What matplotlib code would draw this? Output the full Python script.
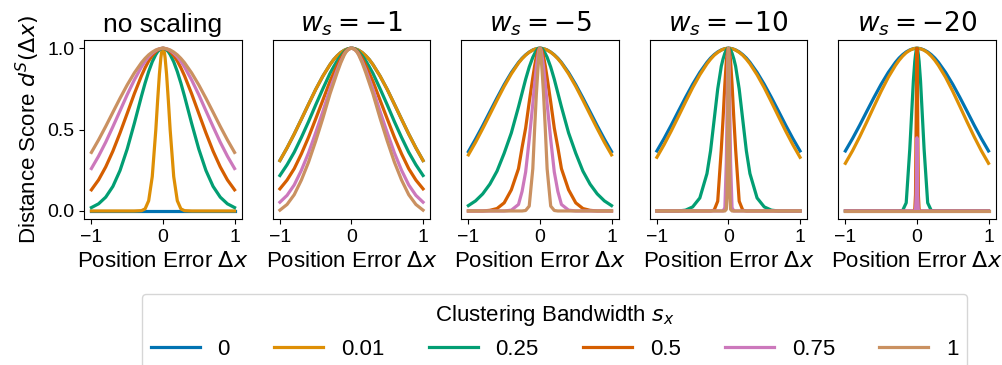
import numpy as np
import matplotlib
if matplotlib.get_backend() != 'agg':
    matplotlib.use('agg')
import matplotlib.pyplot as plt

plt.rcParams['font.family'] = ['Liberation Sans', 'DejaVu Sans']

# half profile grid (curves are symmetric around 0)
X_HALF = [0, 0.005, 0.01, 0.02, 0.03, 0.05, 0.075, 0.1, 0.15, 0.2, 0.25,
          0.3, 0.4, 0.5, 0.6, 0.7, 0.8, 0.9, 1.0]

BANDWIDTHS = ['0', '0.01', '0.25', '0.5', '0.75', '1']
COLORS = ['#0173B2', '#DE8F05', '#029E73', '#D55E00', '#CC78BC', '#CA9161']
TITLES = ['no scaling', r'$w_s = -1$', r'$w_s = -5$', r'$w_s = -10$', r'$w_s = -20$']

NO_SCALING = [
    [0] * 19,
    [1, .998, .993, .973, .940, .841, .678, .50, .211, .063, .013, .002, 0, 0, 0, 0, 0, 0, 0],
    [1, 1, 1, .998, .997, .990, .979, .962, .917, .857, .786, .707, .539, .381, .249, .151, .085, .044, .021],
    [1, 1, 1, .999, .998, .995, .989, .980, .955, .922, .880, .832, .721, .600, .480, .368, .271, .191, .130],
    [1, 1, 1, .999, .999, .997, .992, .987, .970, .948, .919, .886, .806, .715, .616, .518, .423, .337, .261],
    [1, 1, 1, 1, .999, .997, .994, .990, .977, .960, .938, .912, .849, .775, .693, .607, .520, .437, .360],
]
WS_1 = [
    [1, 1, 1, 1, .999, .997, .993, .988, .974, .954, .930, .900, .829, .747, .656, .564, .473, .388, .310],
    [1, 1, 1, 1, .999, .997, .993, .988, .974, .954, .930, .900, .829, .747, .656, .564, .473, .388, .310],
    [1, 1, 1, 1, .998, .995, .989, .980, .955, .923, .886, .846, .751, .652, .549, .452, .361, .284, .218],
    [1, 1, 1, .999, .997, .993, .984, .972, .938, .895, .847, .797, .681, .566, .453, .351, .260, .190, .136],
    [1, 1, 1, .998, .996, .991, .980, .964, .920, .867, .808, .749, .611, .481, .357, .250, .160, .096, .054],
    [1, 1, 1, .998, .996, .990, .978, .960, .910, .850, .785, .720, .570, .430, .300, .190, .100, .040, .005],
]
WS_5 = [
    [1, 1, 1, 1, .999, .997, .994, .990, .977, .960, .939, .913, .851, .777, .695, .610, .524, .442, .365],
    [1, 1, 1, 1, .999, .997, .994, .989, .976, .958, .936, .909, .843, .766, .681, .593, .506, .422, .345],
    [1, 1, 1, .999, .998, .985, .967, .945, .885, .810, .725, .640, .480, .355, .245, .165, .105, .062, .033],
    [1, 1, .998, .992, .982, .950, .890, .820, .670, .510, .390, .260, .130, .050, .015, .004, 0, 0, 0],
    [1, .999, .996, .980, .950, .890, .780, .660, .440, .240, .120, .040, .005, 0, 0, 0, 0, 0, 0],
    [1, .995, .980, .920, .860, .720, .500, .260, .030, .003, 0, 0, 0, 0, 0, 0, 0, 0, 0],
]
WS_10 = [
    [1, 1, 1, 1, .999, .998, .994, .990, .978, .961, .940, .914, .852, .779, .698, .613, .527, .445, .369],
    [1, 1, 1, 1, .999, .997, .994, .989, .975, .957, .933, .905, .837, .758, .670, .580, .491, .407, .330],
    [1, 1, .999, .995, .989, .970, .935, .890, .750, .560, .370, .230, .080, .025, .005, 0, 0, 0, 0],
    [1, .998, .990, .960, .920, .780, .570, .380, .060, .005, 0, 0, 0, 0, 0, 0, 0, 0, 0],
    [1, .970, .900, .600, .300, .020, 0, 0, 0, 0, 0, 0, 0, 0, 0, 0, 0, 0, 0],
    [1, .900, .600, .100, .010, 0, 0, 0, 0, 0, 0, 0, 0, 0, 0, 0, 0, 0, 0],
]
WS_20 = [
    [1, 1, 1, 1, .999, .998, .994, .990, .978, .961, .940, .914, .852, .779, .698, .613, .527, .445, .369],
    [1, 1, 1, 1, .999, .997, .993, .988, .973, .952, .926, .895, .822, .736, .643, .548, .456, .370, .293],
    [1, .999, .990, .960, .920, .800, .590, .380, .050, .003, 0, 0, 0, 0, 0, 0, 0, 0, 0],
    [1, .900, .600, .100, .010, 0, 0, 0, 0, 0, 0, 0, 0, 0, 0, 0, 0, 0, 0],
    [.45, .300, .100, .005, 0, 0, 0, 0, 0, 0, 0, 0, 0, 0, 0, 0, 0, 0, 0],
    [0] * 19,
]
PANELS = [NO_SCALING, WS_1, WS_5, WS_10, WS_20]


def mirror(values):
    values = np.asarray(values, dtype=float)
    return np.concatenate([values[::-1], values[1:]])


x_half = np.asarray(X_HALF, dtype=float)
x_full = np.concatenate([-x_half[::-1], x_half[1:]])

fig, axes = plt.subplots(1, 5, figsize=(10.03, 3.65), dpi=100, sharey=True)
fig.subplots_adjust(left=0.084, right=0.9927, bottom=0.3997, top=0.8899, wspace=0.197)

for ax, title, panel in zip(axes, TITLES, PANELS):
    for label, color, row in zip(BANDWIDTHS, COLORS, panel):
        ax.plot(x_full, mirror(row), color=color, lw=2.3, label=label)
    ax.set_title(title, fontsize=19)
    ax.set_xlabel(r'Position Error $\Delta x$', fontsize=16)
    ax.set_xticks([-1, 0, 1])
    ax.tick_params(labelsize=14)

axes[0].set_yticks([0, 0.5, 1.0])
axes[0].set_ylabel(r'Distance Score $d^S(\Delta x)$', fontsize=16)
for ax in axes[1:]:
    ax.tick_params(left=False)

handles, labels = axes[0].get_legend_handles_labels()
fig.legend(handles, labels, loc='upper center', bbox_to_anchor=(0.553, 0.195),
           borderaxespad=0, ncol=6, title=r'Clustering Bandwidth $s_x$',
           fontsize=16, title_fontsize=16, handlelength=2.2, labelspacing=0.5)

fig.savefig('out.png', dpi=100)
